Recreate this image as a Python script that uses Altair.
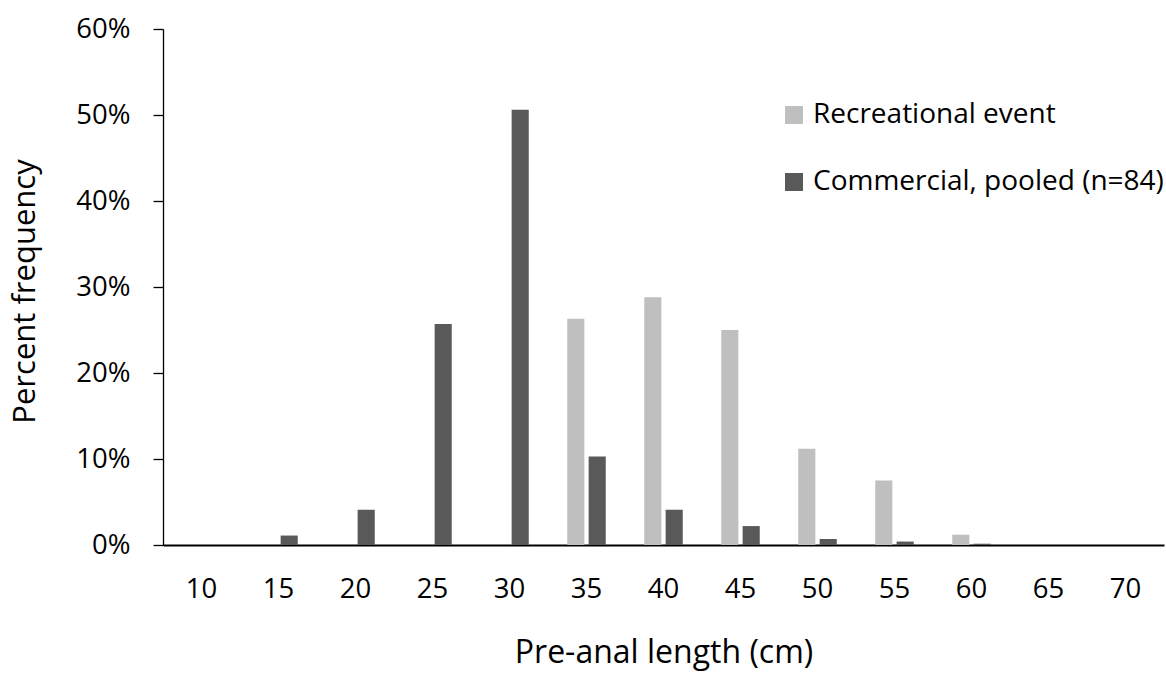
import altair as alt
import pandas as pd

# Length classes (cm) and percent frequency per class for each sample
lengths = [10, 15, 20, 25, 30, 35, 40, 45, 50, 55, 60, 65, 70]
recreational = [0, 0, 0, 0, 0, 26.3, 28.8, 25.0, 11.2, 7.5, 1.2, 0, 0]
commercial = [0, 1.1, 4.1, 25.7, 50.6, 10.3, 4.1, 2.2, 0.7, 0.4, 0.15, 0, 0]

series_names = ["Recreational event", "Commercial, pooled (n=84)"]
series_colors = ["#BFBFBF", "#595959"]

rows = []
for i, L in enumerate(lengths):
    rows.append({"length": str(L), "series": series_names[0], "pct": recreational[i]})
    rows.append({"length": str(L), "series": series_names[1], "pct": commercial[i]})
df = pd.DataFrame(rows)

FONT = "Open Sans"

bars = alt.Chart(df).mark_bar().encode(
    x=alt.X(
        "length:N",
        sort=[str(v) for v in lengths],
        scale=alt.Scale(paddingInner=0.5, paddingOuter=0.25),
        axis=alt.Axis(
            title="Pre-anal length (cm)",
            labelAngle=0,
            ticks=False,
            tickSize=0,
            labelPadding=30,
            labelFontSize=27.5,
            labelFont=FONT,
            labelColor="#000000",
            domainColor="#000000",
            domainWidth=2,
            titleFont=FONT,
            titleFontSize=32,
            titleFontWeight="normal",
            titleColor="#000000",
            titleBaseline="alphabetic",
            titleY=117,
        ),
    ),
    xOffset=alt.XOffset(
        "series:N",
        sort=series_names,
        scale=alt.Scale(paddingInner=0.2, paddingOuter=0),
    ),
    y=alt.Y(
        "pct:Q",
        scale=alt.Scale(domain=[0, 60], nice=False),
        axis=alt.Axis(
            title="Percent frequency",
            values=[0, 10, 20, 30, 40, 50, 60],
            labelExpr="datum.value + '%'",
            grid=False,
            tickSize=10,
            tickWidth=1.3,
            tickColor="#000000",
            labelPadding=23,
            labelFontSize=27.5,
            labelFont=FONT,
            labelColor="#000000",
            domainColor="#000000",
            domainWidth=1.3,
            titleFont=FONT,
            titleFontSize=31,
            titleFontWeight="normal",
            titleColor="#000000",
            titleAngle=-90,
            titleBaseline="alphabetic",
            titleX=-129,
            titleY=262,
            titleAlign="center",
        ),
    ),
    color=alt.Color(
        "series:N",
        sort=series_names,
        scale=alt.Scale(domain=series_names, range=series_colors),
        legend=alt.Legend(
            title=None,
            orient="none",
            legendX=617,
            legendY=72,
            padding=0,
            symbolType="square",
            symbolSize=324,
            symbolStrokeWidth=0,
            symbolOpacity=1,
            labelFont=FONT,
            labelFontSize=28,
            labelColor="#000000",
            labelOffset=5,
            rowPadding=39,
            labelLimit=500,
        ),
    ),
)

chart = bars.properties(
    width=1001,
    height=516,
    autosize=alt.AutoSizeParams(type="none"),
    padding={"left": 163, "top": 29, "right": 2, "bottom": 128},
    background="white",
).configure_view(stroke=None)

chart.save("out.html", embed_options={"renderer": "svg", "actions": False})
